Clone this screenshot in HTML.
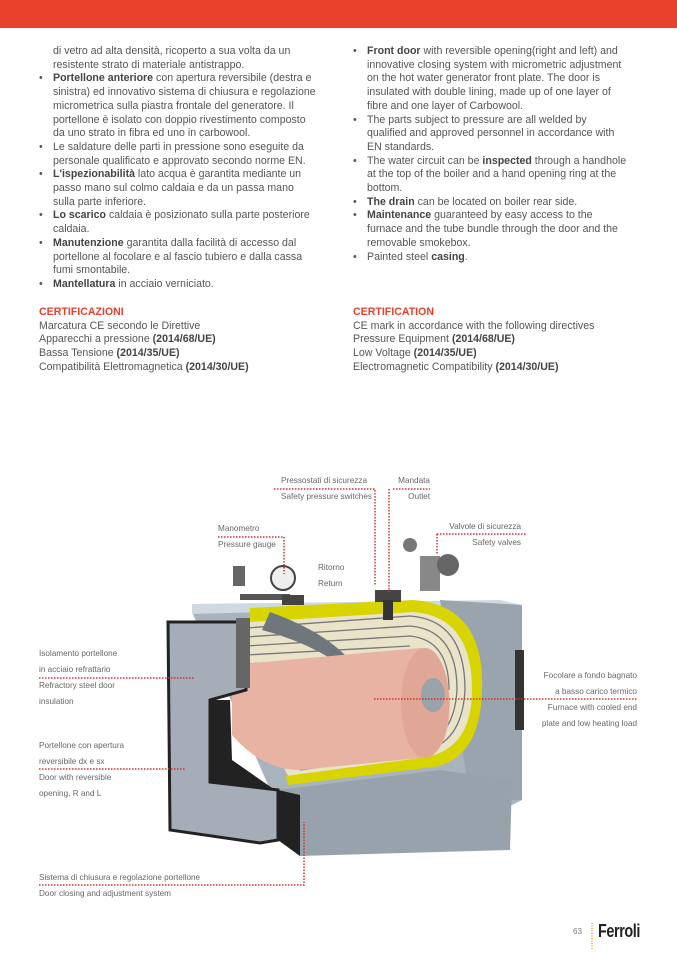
<!DOCTYPE html>
<html><head><meta charset="utf-8"><style>
body{margin:0;width:677px;height:958px;position:relative;background:#fff;font-family:"Liberation Sans",sans-serif;overflow:hidden}
.bar{position:absolute;left:0;top:0;width:677px;height:28px;background:#e8412c}
.col{position:absolute;font-size:10.6px;line-height:13.7px;color:#555;white-space:nowrap}
.col p{margin:0;padding-left:14px;position:relative}
.col p.b:before{content:"•";position:absolute;left:0}
.col b{color:#444}
.h{color:#e8412c;font-weight:bold;padding-left:0!important}
.c{padding-left:0!important}
.l{position:absolute;font-size:8.2px;color:#666;line-height:16px;white-space:nowrap}
</style></head><body>
<div class="bar"></div>
<div class="col" style="left:39px;top:45px">
<p>di vetro ad alta densità, ricoperto a sua volta da un<br>resistente strato di materiale antistrappo.</p>
<p class="b"><b>Portellone anteriore</b> con apertura reversibile (destra e<br>sinistra) ed innovativo sistema di chiusura e regolazione<br>micrometrica sulla piastra frontale del generatore. Il<br>portellone è isolato con doppio rivestimento composto<br>da uno strato in fibra ed uno in carbowool.</p>
<p class="b">Le saldature delle parti in pressione sono eseguite da<br>personale qualificato e approvato secondo norme EN.</p>
<p class="b"><b>L'ispezionabilità</b> lato acqua è garantita mediante un<br>passo mano sul colmo caldaia e da un passa mano<br>sulla parte inferiore.</p>
<p class="b"><b>Lo scarico</b> caldaia è posizionato sulla parte posteriore<br>caldaia.</p>
<p class="b"><b>Manutenzione</b> garantita dalla facilità di accesso dal<br>portellone al focolare e al fascio tubiero e dalla cassa<br>fumi smontabile.</p>
<p class="b"><b>Mantellatura</b> in acciaio verniciato.</p>
</div>
<div class="col" style="left:39px;top:306px">
<p class="h">CERTIFICAZIONI</p>
<p class="c">Marcatura CE secondo le Direttive</p>
<p class="c">Apparecchi a pressione <b>(2014/68/UE)</b></p>
<p class="c">Bassa Tensione <b>(2014/35/UE)</b></p>
<p class="c">Compatibilità Elettromagnetica <b>(2014/30/UE)</b></p>
</div>
<div class="col" style="left:353px;top:45px">
<p class="b"><b>Front door</b> with reversible opening(right and left) and<br>innovative closing system with micrometric adjustment<br>on the hot water generator front plate. The door is<br>insulated with double lining, made up of one layer of<br>fibre and one layer of Carbowool.</p>
<p class="b">The parts subject to pressure are all welded by<br>qualified and approved personnel in accordance with<br>EN standards.</p>
<p class="b">The water circuit can be <b>inspected</b> through a handhole<br>at the top of the boiler and a hand opening ring at the<br>bottom.</p>
<p class="b"><b>The drain</b> can be located on boiler rear side.</p>
<p class="b"><b>Maintenance</b> guaranteed by easy access to the<br>furnace and the tube bundle through the door and the<br>removable smokebox.</p>
<p class="b">Painted steel <b>casing</b>.</p>
</div>
<div class="col" style="left:353px;top:306px">
<p class="h">CERTIFICATION</p>
<p class="c">CE mark in accordance with the following directives</p>
<p class="c">Pressure Equipment <b>(2014/68/UE)</b></p>
<p class="c">Low Voltage <b>(2014/35/UE)</b></p>
<p class="c">Electromagnetic Compatibility <b>(2014/30/UE)</b></p>
</div>

<svg style="position:absolute;left:0;top:0" width="677" height="958">
<polygon points="192,612 520,605 522,800 510,806 280,812" fill="#a9b3bd"/>
<polygon points="192,604 500,600 522,605 192,614" fill="#cfd9e2"/>
<polygon points="440,600 522,605 522,800 470,800" fill="#9aa4ae"/>
<rect x="515" y="650" width="9" height="80" fill="#333"/>
<polygon points="278,790 440,770 512,780 510,850 300,856 278,840" fill="#98a2ac"/>
<polygon points="278,790 300,795 300,856 278,840" fill="#222"/>
<path d="M250,620 L413,601 Q480,610 478,690 Q476,760 420,762 L290,780 L250,700Z" fill="#e8e3c9"/>
<path d="M250,608 L413,600 Q485,605 482,690 Q480,765 425,768 L288,785 L286,776 L420,758 Q472,752 472,690 Q472,616 413,612 L250,622Z" fill="#d7d400"/>
<g stroke="#777" stroke-width="1.3" fill="none">
<path d="M246,628 L410,616 Q465,620 465,690"/><path d="M246,637 L410,626 Q457,630 457,690"/>
<path d="M246,646 L410,636 Q449,640 449,690"/><path d="M246,655 L410,646"/>
<path d="M246,664 L410,655"/><path d="M300,770 L420,752 Q462,745 465,690"/>
<path d="M300,762 L420,744 Q454,738 457,690"/></g>
<path d="M270,612 Q320,630 345,655 L330,658 Q300,640 262,630Z" fill="#6f767c"/>
<path d="M232,665 L420,648 Q448,650 450,705 Q448,758 420,758 L300,770 Q262,770 232,735Z" fill="#e8b3a3"/>
<ellipse cx="425" cy="703" rx="24" ry="55" fill="#e0a797"/>
<ellipse cx="433" cy="695" rx="12" ry="17" fill="#9aa2aa"/>
<path d="M168,622 L246,622 L246,690 L210,700 L210,782 L278,790 L278,840 L260,843 L170,830Z" fill="#a5aeb8" stroke="#222" stroke-width="3"/>
<path d="M210,700 L230,700 L232,760 L275,790 L210,782Z" fill="#222"/>
<rect x="236" y="618" width="14" height="70" fill="#666"/>
<rect x="233" y="566" width="12" height="20" fill="#666"/>
<rect x="240" y="594" width="50" height="6" fill="#555"/>
<circle cx="283" cy="578" r="12" fill="#eee" stroke="#444" stroke-width="2"/>
<rect x="282" y="595" width="22" height="10" fill="#444"/>
<rect x="375" y="590" width="26" height="12" fill="#444"/>
<rect x="383" y="600" width="10" height="20" fill="#333"/>
<rect x="420" y="556" width="20" height="35" fill="#888"/>
<circle cx="410" cy="545" r="7" fill="#777"/>
<circle cx="448" cy="565" r="11" fill="#666"/>
<g stroke="#d3302a" stroke-width="1.5" stroke-dasharray="1.5 1.5" fill="none">
<polyline points="274,489 375,489 375,585"/>
<polyline points="393,489 430,489"/><polyline points="389,489 389,592"/>
<polyline points="218,537 284,537 284,574"/>
<polyline points="437,534 527,534"/><polyline points="437,534 437,555"/>
<polyline points="39,678 195,678"/>
<polyline points="39,769 185,769"/>
<polyline points="374,699 637,699"/>
<polyline points="39,885 304,885 304,822"/>
<line x1="592" y1="923" x2="592" y2="950" stroke="#f0a030" stroke-dasharray="1 1.5"/>
</g>
</svg>
<div class="l" style="left:281px;top:473px">Pressostati di sicurezza<br>Safety pressure switches</div>
<div class="l" style="left:397px;top:473px;text-align:right;width:33px">Mandata<br>Outlet</div>
<div class="l" style="left:218px;top:521px">Manometro<br>Pressure gauge</div>
<div class="l" style="left:318px;top:560px">Ritorno<br>Return</div>
<div class="l" style="left:445px;top:519px;width:76px;text-align:right">Valvole di sicurezza<br>Safety valves</div>
<div class="l" style="left:39px;top:646px">Isolamento portellone<br>in acciaio refrattario<br>Refractory steel door<br>insulation</div>
<div class="l" style="left:39px;top:738px">Portellone con apertura<br>reversibile dx e sx<br>Door with reversible<br>opening, R and L</div>
<div class="l" style="left:530px;top:668px;width:107px;text-align:right">Focolare a fondo bagnato<br>a basso carico termico<br>Furnace with cooled end<br>plate and low heating load</div>
<div class="l" style="left:39px;top:870px">Sistema di chiusura e regolazione portellone<br>Door closing and adjustment system</div>
<div style="position:absolute;left:573px;top:927px;font-size:8px;color:#777">63</div>
<div style="position:absolute;left:598px;top:921px;font-size:18px;font-weight:bold;color:#222;letter-spacing:-0.5px;transform:scaleX(0.8);transform-origin:left">Ferroli</div>
</body></html>
